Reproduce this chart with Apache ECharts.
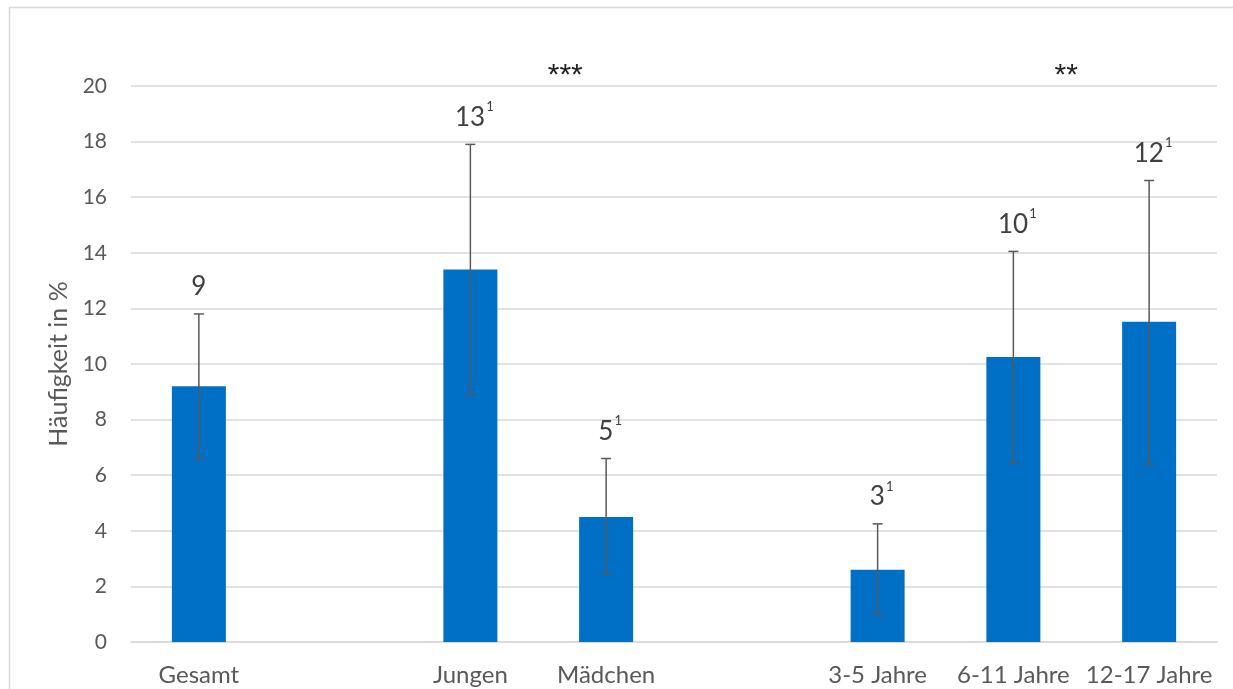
<!DOCTYPE html>
<html>
<head>
<meta charset="utf-8">
<script src="https://cdn.jsdelivr.net/npm/echarts@6/dist/echarts.min.js"></script>
<style>
  html, body { margin: 0; padding: 0; background: #fff; }
  #chart { width: 1233px; height: 689px; }
</style>
</head>
<body>
<div id="chart"></div>
<script>
// Groups: total, by sex, by age band (empty slots separate the groups)
const categories = ['Gesamt', '', 'Jungen', 'Mädchen', '', '3-5 Jahre', '6-11 Jahre', '12-17 Jahre'];
const values     = [9.2, null, 13.4, 4.5, null, 2.6, 10.25, 11.52];
const ciLower    = [6.6, null, 8.9, 2.45, null, 1.0, 6.45, 6.4];
const ciUpper    = [11.8, null, 17.9, 6.6, null, 4.25, 14.05, 16.6];
const footnote   = ['', '', '1', '1', '', '1', '1', '1'];
const yTicks     = [0, 2, 4, 6, 8, 10, 12, 14, 16, 18, 20];
// significance markers between groups: [left category, right category, text]
const significance = [
  ['Jungen', 'Mädchen', '***'],
  ['6-11 Jahre', '12-17 Jahre', '**']
];

const FONT = 'Lato, "Open Sans", sans-serif';
const TEXT = '#595959';
const GRID = '#D9D9D9';
const BLUE = '#0070C6';

const chart = echarts.init(document.getElementById('chart'));

const errData = categories.map((c, i) => [i, ciLower[i], ciUpper[i], values[i], footnote[i]]);

const frame = {
  type: 'rect',
  shape: { x: 9.5, y: 7.5, width: 1300, height: 800 },
  style: { fill: 'none', stroke: GRID, lineWidth: 1.5 },
  silent: true
};

chart.setOption({
  animation: false,
  grid: { left: 131, right: 16, top: 86, bottom: 47 },
  graphic: [frame],
  xAxis: {
    type: 'category',
    data: categories,
    axisLine: { lineStyle: { color: GRID, width: 1.5 } },
    axisTick: { show: false },
    axisLabel: { color: TEXT, fontFamily: FONT, fontSize: 24, margin: 21, interval: 0 }
  },
  yAxis: {
    type: 'value',
    min: 0, max: 20, interval: 2,
    name: 'Häufigkeit in %',
    nameLocation: 'middle',
    nameGap: 60,
    nameTextStyle: { color: TEXT, fontFamily: FONT, fontSize: 25 },
    axisLine: { show: false },
    axisTick: { show: false },
    splitLine: { lineStyle: { color: GRID, width: 1.5 } },
    axisLabel: {
      color: TEXT, fontFamily: FONT, fontSize: 21, margin: 24,
      formatter: v => yTicks.includes(v) ? String(v) : ''
    }
  },
  series: [
    {
      type: 'bar',
      data: values,
      barWidth: 54,
      itemStyle: { color: BLUE },
      silent: true
    },
    {
      type: 'custom',
      data: errData,
      silent: true,
      z: 5,
      renderItem: function (params, api) {
        const lo = api.value(1);
        if (lo == null || isNaN(lo)) return null;
        const i = api.value(0);
        const pLo = api.coord([i, lo]);
        const pHi = api.coord([i, api.value(2)]);
        const val = api.value(3);
        const note = errData[params.dataIndex][4];
        const cap = 5;
        const st = { stroke: '#595959', lineWidth: 1.5 };
        return {
          type: 'group',
          children: [
            { type: 'line', shape: { x1: pLo[0], y1: pLo[1], x2: pHi[0], y2: pHi[1] }, style: st },
            { type: 'line', shape: { x1: pLo[0] - cap, y1: pLo[1], x2: pLo[0] + cap, y2: pLo[1] }, style: st },
            { type: 'line', shape: { x1: pHi[0] - cap, y1: pHi[1], x2: pHi[0] + cap, y2: pHi[1] }, style: st },
            {
              type: 'text',
              x: pHi[0] + (note ? 4 : 0),
              y: pHi[1] - 14,
              style: {
                text: '{n|' + Math.round(val) + '}' + (note ? '{s|' + note + '}' : ''),
                align: 'center',
                verticalAlign: 'bottom',
                rich: {
                  n: { fontFamily: FONT, fontSize: 26, fill: '#404040', lineHeight: 30, verticalAlign: 'bottom' },
                  s: { fontFamily: FONT, fontSize: 13, fill: '#404040', lineHeight: 30, verticalAlign: 'top', padding: [0, 0, 0, 1] }
                }
              }
            }
          ]
        };
      }
    }
  ]
});

// significance markers above the plot, placed between the compared groups
const markers = significance.map(([a, b, txt], k) => {
  const pa = chart.convertToPixel({ xAxisIndex: 0, yAxisIndex: 0 }, [a, 20]);
  const pb = chart.convertToPixel({ xAxisIndex: 0, yAxisIndex: 0 }, [b, 20]);
  const shift = k === 0 ? 27 : -15;
  return {
    type: 'text',
    x: (pa[0] + pb[0]) / 2 + shift,
    y: pa[1] - 10,
    style: { text: txt, fontFamily: '"Liberation Sans", sans-serif', fontSize: 30, fill: '#222', align: 'center', verticalAlign: 'middle' },
    silent: true
  };
});
chart.setOption({ graphic: [frame].concat(markers) });
</script>
</body>
</html>
